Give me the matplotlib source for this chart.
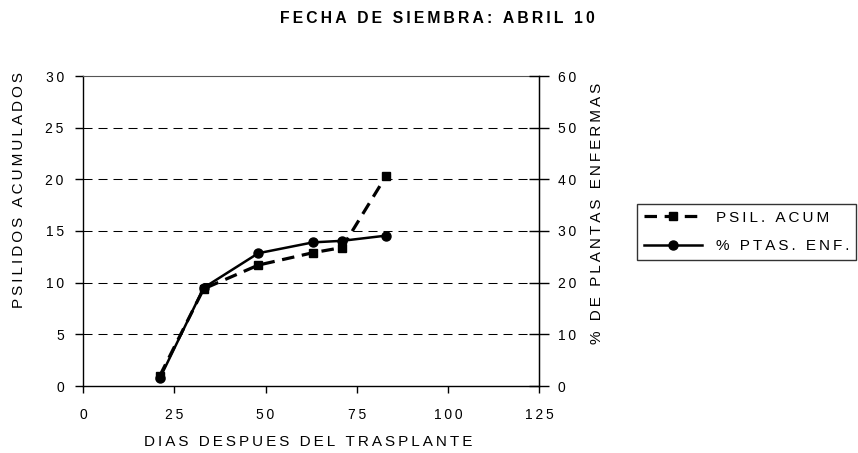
import numpy as np
import matplotlib
matplotlib.use("Agg")
import matplotlib.pyplot as plt

plt.rcParams['font.family'] = ['Liberation Sans', 'DejaVu Sans']
plt.rcParams['lines.scale_dashes'] = False

# data
dias = [21, 33, 48, 63, 71, 83]
psil_acum = [1.0, 9.4, 11.7, 12.9, 13.4, 20.3]
ptas_enf = [1.5, 19.0, 25.7, 27.8, 28.1, 29.1]

x_ticks = [0, 25, 50, 75, 100, 125]
y1_ticks = [0, 5, 10, 15, 20, 25, 30]
y2_ticks = [0, 10, 20, 30, 40, 50, 60]

W, H = 858, 453


def spaced(s):
    # excel-like letter tracking
    return '\u2009'.join(s)


fig = plt.figure(figsize=(W / 100, H / 100), dpi=100)
ax = fig.add_axes([83.3 / W, 1 - 386 / H, (539 - 83.3) / W, (386 - 76) / H])
ax2 = ax.twinx()

ax.set_xlim(0, 125)
ax.set_ylim(0, 30)
ax2.set_ylim(0, 60)

# dashed gridlines, solid top line
for v in y1_ticks[1:-1]:
    ax.axhline(v, color='black', lw=0.75, dashes=(6.5, 4.3), zorder=1)
ax.spines['top'].set_color('#555555')
ax2.spines['top'].set_visible(False)
for s in ['left', 'bottom']:
    ax.spines[s].set_linewidth(1.0)
ax2.spines['right'].set_linewidth(1.0)
ax2.spines['left'].set_visible(False)
ax2.spines['bottom'].set_visible(False)

l1, = ax.plot(dias, psil_acum, color='black', lw=2.3, dashes=(9, 5.5),
              marker='s', ms=6, zorder=3, label='PSIL. ACUM')
l2, = ax2.plot(dias, ptas_enf, color='black', lw=1.8,
               marker='o', ms=6.5, zorder=3, label='% PTAS. ENF.')

ax.set_xticks(x_ticks)
ax.set_xticklabels([spaced(str(t)) for t in x_ticks])
ax.set_yticks(y1_ticks)
ax.set_yticklabels([spaced(str(t)) for t in y1_ticks])
ax2.set_yticks(y2_ticks)
ax2.set_yticklabels([spaced(str(t)) for t in y2_ticks])

ax.tick_params(axis='x', direction='out', length=5, width=1, labelsize=10, pad=11)
ax.tick_params(axis='y', direction='out', length=6, width=1, labelsize=10, pad=8)
ax2.tick_params(axis='y', direction='inout', length=14, width=1, labelsize=10, pad=6.5)

fig.text(437 / W, 1 - 18.5 / H, spaced('FECHA DE SIEMBRA: ABRIL 10'),
         ha='center', va='center', fontsize=11.3, fontweight='bold')
fig.text(308 / W, 1 - 442 / H, spaced('DIAS DESPUES DEL TRASPLANTE'),
         ha='center', va='center', fontsize=11)
fig.text(19 / W, 1 - 190 / H, spaced('PSILIDOS ACUMULADOS'),
         ha='center', va='center', fontsize=11, rotation=90)
fig.text(597 / W, 1 - 213 / H, spaced('% DE PLANTAS ENFERMAS'),
         ha='center', va='center', fontsize=11, rotation=90)

leg = fig.legend([l1, l2], [spaced('PSIL. ACUM'), spaced('% PTAS. ENF.')],
                 loc='center left', bbox_to_anchor=(637 / W, 1 - 232 / H),
                 fontsize=11, frameon=True, fancybox=False, handlelength=3.8,
                 handletextpad=0.9, labelspacing=0.95, borderpad=0.45,
                 borderaxespad=0)
leg.get_frame().set_edgecolor('black')
leg.get_frame().set_linewidth(1.0)

fig.savefig('out.png', dpi=100)
